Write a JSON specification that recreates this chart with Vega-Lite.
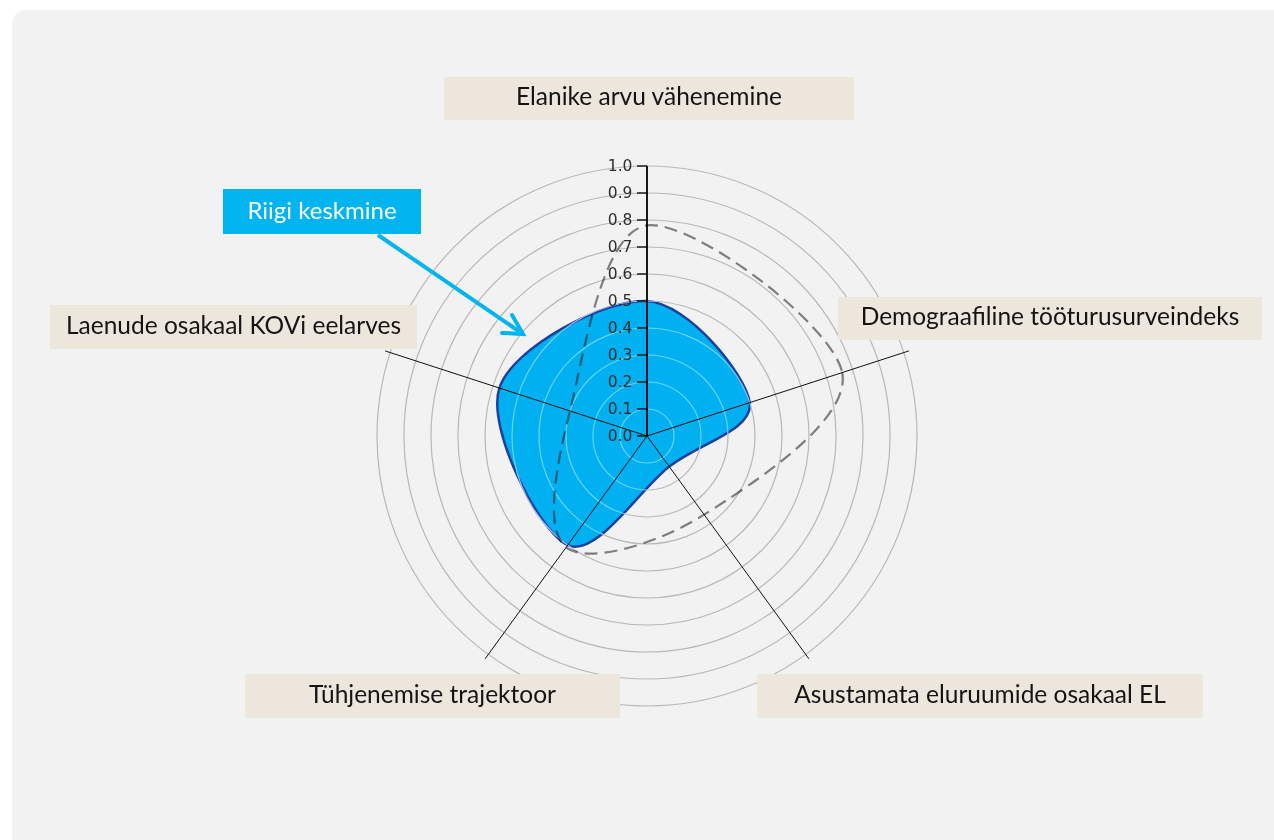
{
  "$schema": "https://vega.github.io/schema/vega-lite/v6.json",
  "width": 1274,
  "height": 840,
  "autosize": {"type": "none"},
  "padding": 0,
  "background": "#ffffff",
  "view": {"stroke": null},
  "config": {"font": "Lato"},
  "datasets": {
    "panel": [{"x": -2.3519, "x2": 2.3222, "y": 1.5778, "y2": -1.4963}],
    "rings": [{"r": 0.1}, {"r": 0.2}, {"r": 0.3}, {"r": 0.4}, {"r": 0.5}, {"r": 0.6}, {"r": 0.7}, {"r": 0.8}, {"r": 0.9}, {"r": 1.0}],
    "ticks": [{"v": 0}, {"v": 0.1}, {"v": 0.2}, {"v": 0.3}, {"v": 0.4}, {"v": 0.5}, {"v": 0.6}, {"v": 0.7}, {"v": 0.8}, {"v": 0.9}, {"v": 1.0}],
    "axes": [
      {"axis": "Elanike arvu vähenemine", "i": 0},
      {"axis": "Demograafiline tööturusurveindeks", "i": 1},
      {"axis": "Asustamata eluruumide osakaal EL", "i": 2},
      {"axis": "Tühjenemise trajektoor", "i": 3},
      {"axis": "Laenude osakaal KOVi eelarves", "i": 4}
    ],
    "radar": [
      {"series": "Riigi keskmine", "axis": "Elanike arvu vähenemine", "i": 0, "value": 0.50},
      {"series": "Riigi keskmine", "axis": "Demograafiline tööturusurveindeks", "i": 1, "value": 0.40},
      {"series": "Riigi keskmine", "axis": "Asustamata eluruumide osakaal EL", "i": 2, "value": 0.14},
      {"series": "Riigi keskmine", "axis": "Tühjenemise trajektoor", "i": 3, "value": 0.50},
      {"series": "Riigi keskmine", "axis": "Laenude osakaal KOVi eelarves", "i": 4, "value": 0.575},
      {"series": "Omavalitsus", "axis": "Elanike arvu vähenemine", "i": 0, "value": 0.78},
      {"series": "Omavalitsus", "axis": "Demograafiline tööturusurveindeks", "i": 1, "value": 0.76},
      {"series": "Omavalitsus", "axis": "Asustamata eluruumide osakaal EL", "i": 2, "value": 0.36},
      {"series": "Omavalitsus", "axis": "Tühjenemise trajektoor", "i": 3, "value": 0.51},
      {"series": "Omavalitsus", "axis": "Laenude osakaal KOVi eelarves", "i": 4, "value": 0.30}
    ],
    "labels": [
      {"text": "Elanike arvu vähenemine", "x": -0.7519, "x2": 0.7667, "y": 1.3296, "y2": 1.1704},
      {"text": "Demograafiline tööturusurveindeks", "x": 0.7074, "x2": 2.2778, "y": 0.5148, "y2": 0.3556},
      {"text": "Asustamata eluruumide osakaal EL", "x": 0.4074, "x2": 2.0593, "y": -0.8815, "y2": -1.0444},
      {"text": "Tühjenemise trajektoor", "x": -1.4889, "x2": -0.1, "y": -0.8815, "y2": -1.0444},
      {"text": "Laenude osakaal KOVi eelarves", "x": -2.2111, "x2": -0.8519, "y": 0.4852, "y2": 0.3222}
    ],
    "callout": [{"text": "Riigi keskmine", "x": -1.5704, "x2": -0.837, "y": 0.9148, "y2": 0.7481}],
    "arrow": [{"x": -0.9963, "y": 0.7444, "x2": -0.4593, "y2": 0.3778}],
    "arrowhead": [
      {"k": 0, "x": -0.5, "y": 0.4481},
      {"k": 1, "x": -0.4593, "y": 0.3778},
      {"k": 2, "x": -0.537, "y": 0.3815}
    ]
  },
  "layer": [
    {
      "data": {"name": "panel"},
      "mark": {"type": "rect", "fill": "#f2f2f2", "cornerRadiusTopLeft": 14},
      "encoding": {
        "x": {"field": "x", "type": "quantitative", "scale": {"domain": [-2.3963, 2.3222], "nice": false, "zero": false}, "axis": null},
        "x2": {"field": "x2"},
        "y": {"field": "y", "type": "quantitative", "scale": {"domain": [-1.4963, 1.6148], "nice": false, "zero": false}, "axis": null},
        "y2": {"field": "y2"}
      }
    },
    {
      "data": {"name": "radar"},
      "transform": [
        {"filter": "datum.series == 'Riigi keskmine'"},
        {"calculate": "datum.value * sin(datum.i * 2 * PI / 5)", "as": "x"},
        {"calculate": "datum.value * cos(datum.i * 2 * PI / 5)", "as": "y"}
      ],
      "mark": {"type": "line", "interpolate": "cardinal-closed", "fill": "#00b0f0", "stroke": "#1d3f9c", "strokeWidth": 2.5},
      "encoding": {
        "x": {"field": "x", "type": "quantitative", "scale": {"domain": [-2.3963, 2.3222], "nice": false, "zero": false}, "axis": null},
        "y": {"field": "y", "type": "quantitative", "scale": {"domain": [-1.4963, 1.6148], "nice": false, "zero": false}, "axis": null},
        "order": {"field": "i", "type": "quantitative"}
      }
    },
    {
      "data": {"name": "rings"},
      "transform": [
        {"calculate": "0", "as": "cx"},
        {"calculate": "0", "as": "cy"}
      ],
      "mark": {"type": "arc", "theta": 0, "theta2": 6.2832, "filled": false, "stroke": "#b8b8b8", "strokeWidth": 1.2, "blend": "luminosity"},
      "encoding": {
        "x": {"field": "cx", "type": "quantitative", "scale": {"domain": [-2.3963, 2.3222], "nice": false, "zero": false}, "axis": null},
        "y": {"field": "cy", "type": "quantitative", "scale": {"domain": [-1.4963, 1.6148], "nice": false, "zero": false}, "axis": null},
        "radius": {"field": "r", "type": "quantitative", "stack": null, "scale": {"type": "linear", "domain": [0, 1], "range": [0, 270], "zero": true}, "legend": null}
      }
    },
    {
      "data": {"name": "axes"},
      "transform": [
        {"filter": "datum.i > 0"},
        {"calculate": "0", "as": "x1"},
        {"calculate": "0", "as": "y1"},
        {"calculate": "1.02 * sin(datum.i * 2 * PI / 5)", "as": "x2"},
        {"calculate": "1.02 * cos(datum.i * 2 * PI / 5)", "as": "y2"}
      ],
      "mark": {"type": "rule", "stroke": "#111111", "strokeWidth": 1},
      "encoding": {
        "x": {"field": "x1", "type": "quantitative", "scale": {"domain": [-2.3963, 2.3222], "nice": false, "zero": false}, "axis": null},
        "y": {"field": "y1", "type": "quantitative", "scale": {"domain": [-1.4963, 1.6148], "nice": false, "zero": false}, "axis": null},
        "x2": {"field": "x2"},
        "y2": {"field": "y2"}
      }
    },
    {
      "data": {"name": "radar"},
      "transform": [
        {"filter": "datum.series == 'Omavalitsus'"},
        {"calculate": "datum.value * sin(datum.i * 2 * PI / 5)", "as": "x"},
        {"calculate": "datum.value * cos(datum.i * 2 * PI / 5)", "as": "y"}
      ],
      "mark": {"type": "line", "interpolate": "cardinal-closed", "stroke": "#858585", "strokeWidth": 2.2, "strokeDash": [13, 7], "blend": "multiply"},
      "encoding": {
        "x": {"field": "x", "type": "quantitative", "scale": {"domain": [-2.3963, 2.3222], "nice": false, "zero": false}, "axis": null},
        "y": {"field": "y", "type": "quantitative", "scale": {"domain": [-1.4963, 1.6148], "nice": false, "zero": false}, "axis": null},
        "order": {"field": "i", "type": "quantitative"}
      }
    },
    {
      "data": {"name": "axes"},
      "transform": [
        {"filter": "datum.i == 0"},
        {"calculate": "0", "as": "x1"},
        {"calculate": "0", "as": "y1"},
        {"calculate": "1", "as": "y2"}
      ],
      "mark": {"type": "rule", "stroke": "#000000", "strokeWidth": 1.8},
      "encoding": {
        "x": {"field": "x1", "type": "quantitative", "scale": {"domain": [-2.3963, 2.3222], "nice": false, "zero": false}, "axis": null},
        "y": {"field": "y1", "type": "quantitative", "scale": {"domain": [-1.4963, 1.6148], "nice": false, "zero": false}, "axis": null},
        "y2": {"field": "y2"}
      }
    },
    {
      "data": {"name": "ticks"},
      "transform": [
        {"calculate": "-0.037", "as": "x1"},
        {"calculate": "0", "as": "x2"}
      ],
      "mark": {"type": "rule", "stroke": "#000000", "strokeWidth": 1.3},
      "encoding": {
        "x": {"field": "x1", "type": "quantitative", "scale": {"domain": [-2.3963, 2.3222], "nice": false, "zero": false}, "axis": null},
        "x2": {"field": "x2"},
        "y": {"field": "v", "type": "quantitative", "scale": {"domain": [-1.4963, 1.6148], "nice": false, "zero": false}, "axis": null}
      }
    },
    {
      "data": {"name": "ticks"},
      "transform": [
        {"calculate": "-0.054", "as": "lx"}
      ],
      "mark": {"type": "text", "font": "DejaVu Sans", "fontSize": 15.5, "color": "#2e2e2e", "align": "right", "baseline": "middle"},
      "encoding": {
        "x": {"field": "lx", "type": "quantitative", "scale": {"domain": [-2.3963, 2.3222], "nice": false, "zero": false}, "axis": null},
        "y": {"field": "v", "type": "quantitative", "scale": {"domain": [-1.4963, 1.6148], "nice": false, "zero": false}, "axis": null},
        "text": {"field": "v", "type": "quantitative", "format": ".1f"}
      }
    },
    {
      "data": {"name": "labels"},
      "mark": {"type": "rect", "fill": "#ede6dc"},
      "encoding": {
        "x": {"field": "x", "type": "quantitative", "scale": {"domain": [-2.3963, 2.3222], "nice": false, "zero": false}, "axis": null},
        "x2": {"field": "x2"},
        "y": {"field": "y", "type": "quantitative", "scale": {"domain": [-1.4963, 1.6148], "nice": false, "zero": false}, "axis": null},
        "y2": {"field": "y2"}
      }
    },
    {
      "data": {"name": "labels"},
      "transform": [
        {"calculate": "(datum.x + datum.x2) / 2", "as": "cx"},
        {"calculate": "(datum.y + datum.y2) / 2", "as": "cy"}
      ],
      "mark": {"type": "text", "font": "Lato", "fontSize": 24.5, "color": "#141414", "align": "center", "baseline": "middle"},
      "encoding": {
        "x": {"field": "cx", "type": "quantitative", "scale": {"domain": [-2.3963, 2.3222], "nice": false, "zero": false}, "axis": null},
        "y": {"field": "cy", "type": "quantitative", "scale": {"domain": [-1.4963, 1.6148], "nice": false, "zero": false}, "axis": null},
        "text": {"field": "text"}
      }
    },
    {
      "data": {"name": "callout"},
      "mark": {"type": "rect", "fill": "#00b4f0"},
      "encoding": {
        "x": {"field": "x", "type": "quantitative", "scale": {"domain": [-2.3963, 2.3222], "nice": false, "zero": false}, "axis": null},
        "x2": {"field": "x2"},
        "y": {"field": "y", "type": "quantitative", "scale": {"domain": [-1.4963, 1.6148], "nice": false, "zero": false}, "axis": null},
        "y2": {"field": "y2"}
      }
    },
    {
      "data": {"name": "callout"},
      "transform": [
        {"calculate": "(datum.x + datum.x2) / 2", "as": "cx"},
        {"calculate": "(datum.y + datum.y2) / 2", "as": "cy"}
      ],
      "mark": {"type": "text", "font": "Lato", "fontSize": 24, "color": "#ffffff", "align": "center", "baseline": "middle"},
      "encoding": {
        "x": {"field": "cx", "type": "quantitative", "scale": {"domain": [-2.3963, 2.3222], "nice": false, "zero": false}, "axis": null},
        "y": {"field": "cy", "type": "quantitative", "scale": {"domain": [-1.4963, 1.6148], "nice": false, "zero": false}, "axis": null},
        "text": {"field": "text"}
      }
    },
    {
      "data": {"name": "arrow"},
      "mark": {"type": "rule", "stroke": "#00b4f0", "strokeWidth": 4},
      "encoding": {
        "x": {"field": "x", "type": "quantitative", "scale": {"domain": [-2.3963, 2.3222], "nice": false, "zero": false}, "axis": null},
        "x2": {"field": "x2"},
        "y": {"field": "y", "type": "quantitative", "scale": {"domain": [-1.4963, 1.6148], "nice": false, "zero": false}, "axis": null},
        "y2": {"field": "y2"}
      }
    },
    {
      "data": {"name": "arrowhead"},
      "mark": {"type": "line", "stroke": "#00b4f0", "strokeWidth": 4, "strokeCap": "round", "strokeJoin": "miter"},
      "encoding": {
        "x": {"field": "x", "type": "quantitative", "scale": {"domain": [-2.3963, 2.3222], "nice": false, "zero": false}, "axis": null},
        "y": {"field": "y", "type": "quantitative", "scale": {"domain": [-1.4963, 1.6148], "nice": false, "zero": false}, "axis": null},
        "order": {"field": "k", "type": "quantitative"}
      }
    }
  ]
}
